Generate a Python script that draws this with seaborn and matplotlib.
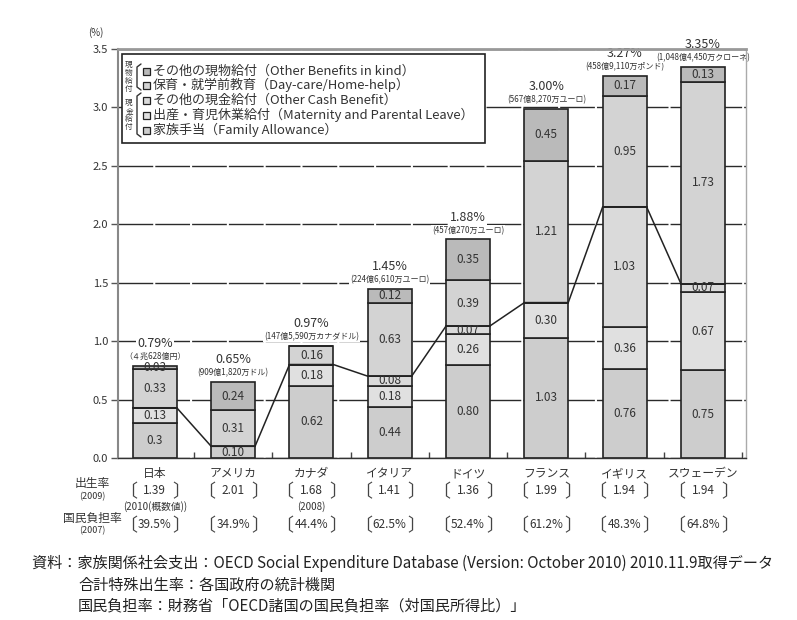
import matplotlib
matplotlib.use("Agg")
import matplotlib.pyplot as plt
import matplotlib.transforms as mtransforms
from matplotlib.patches import Rectangle
from matplotlib.lines import Line2D
import numpy as np
import pandas as pd
import seaborn as sns

sns.set_theme(style="white")
plt.rcParams['font.family'] = ['Noto Sans CJK JP', 'DejaVu Sans']

# ---- data (% of GDP) ----
countries = ["日本", "アメリカ", "カナダ", "イタリア", "ドイツ", "フランス", "イギリス", "スウェーデン"]
family_allowance = ["0.3", "0.10", "0.62", "0.44", "0.80", "1.03", "0.76", "0.75"]
maternity_leave = ["0.13", "0", "0.18", "0.18", "0.26", "0.30", "0.36", "0.67"]
other_cash = ["0", "0", "0", "0.08", "0.07", "0", "1.03", "0.07"]
day_care = ["0.33", "0.31", "0.16", "0.63", "0.39", "1.21", "0.95", "1.73"]
other_in_kind = ["0.03", "0.24", "0", "0.12", "0.35", "0.45", "0.17", "0.13"]
total_pct = ["0.79", "0.65", "0.97", "1.45", "1.88", "3.00", "3.27", "3.35"]
amounts = ["（４兆628億円）", "(909億1,820万ドル)", "(147億5,590万カナダドル)",
           "(224億6,610万ユーロ)", "(457億270万ユーロ)", "(567億8,270万ユーロ)",
           "(458億9,110万ポンド)", "(1,048億4,450万クローネ)"]
birth_rate = ["1.39", "2.01", "1.68", "1.41", "1.36", "1.99", "1.94", "1.94"]
birth_year_note = ["(2010(概数値))", "", "(2008)", "", "", "", "", ""]
tax_burden = ["39.5%", "34.9%", "44.4%", "62.5%", "52.4%", "61.2%", "48.3%", "64.8%"]

layers = [
    ("家族手当（Family Allowance）", family_allowance, "#cdcdcd"),
    ("出産・育児休業給付（Maternity and Parental Leave）", maternity_leave, "#e0e0e0"),
    ("その他の現金給付（Other Cash Benefit）", other_cash, "#dadada"),
    ("保育・就学前教育（Day-care/Home-help）", day_care, "#d3d3d3"),
    ("その他の現物給付（Other Benefits in kind）", other_in_kind, "#bababa"),
]

W, H = 797, 620
fig = plt.figure(figsize=(W / 100, H / 100), dpi=100)
fig.patch.set_facecolor("white")

def fx(px):
    return px / W

def fy(py):
    return 1 - py / H

ax = fig.add_axes([fx(118), fy(458), fx(746) - fx(118), fy(49) - fy(458)])

bar_w = 0.56
edge = "#222222"
bottom = np.zeros(len(countries))
for name, vals, col in layers:
    v = np.array([float(s) for s in vals])
    sns.barplot(x=countries, y=v, bottom=bottom, color=col, width=bar_w,
                edgecolor=edge, linewidth=1.2, ax=ax, zorder=2)
    for i, (s, h) in enumerate(zip(vals, v)):
        if h > 0:
            ax.text(i, bottom[i] + h / 2, s, ha="center", va="center",
                    fontsize=8.5, color="#333333", zorder=4)
    bottom = bottom + v

stack_top = bottom

# line joining the cash-benefit totals
cash = np.array([float(a) + float(b) + float(c)
                 for a, b, c in zip(family_allowance, maternity_leave, other_cash)])
lx, ly = [], []
for i, c in enumerate(cash):
    lx += [i - bar_w / 2, i + bar_w / 2]
    ly += [c, c]
ax.plot(lx, ly, color="#222222", lw=1.1, zorder=3)

# totals above bars
for i, (p, a) in enumerate(zip(total_pct, amounts)):
    ax.annotate(a, (i, stack_top[i]), xytext=(0, 6.5), textcoords="offset points",
                ha="center", va="center", fontsize=5.8, color="#333333",
                bbox=dict(boxstyle="square,pad=0.1", fc="white", ec="none"), zorder=5)
    ax.annotate(p + "%", (i, stack_top[i]), xytext=(0, 16), textcoords="offset points",
                ha="center", va="center", fontsize=9, color="#333333",
                bbox=dict(boxstyle="square,pad=0.1", fc="white", ec="none"), zorder=5)

# axes styling
ax.set_ylim(0, 3.5)
ax.set_xlim(-0.47, 7.55)
ax.set_yticks(np.arange(0, 3.51, 0.5))
ax.set_yticklabels([f"{t:.1f}" for t in np.arange(0, 3.51, 0.5)])
ax.set_axisbelow(True)
ax.yaxis.grid(True, color="#2a2a2a", lw=1.0, linestyle=(0, (25, 1.5)))
ax.xaxis.grid(False)
ax.set_facecolor("white")
ax.set_xlabel("")
ax.set_ylabel("")
ax.tick_params(axis="y", which="major", left=True, length=5, width=1, color="#555555",
               labelsize=8, labelcolor="#333333", pad=2)
ax.tick_params(axis="x", which="major", bottom=False, labelsize=8.5,
               labelcolor="#333333", pad=0.5)
ax.set_xticks(np.arange(len(countries)) + 0.5, minor=True)
ax.tick_params(axis="x", which="minor", bottom=True, direction="in", length=4,
               width=1, color="#444444")
ax.spines["left"].set_color("#888888")
ax.spines["left"].set_linewidth(1.5)
ax.spines["top"].set_color("#999999")
ax.spines["top"].set_linewidth(2)
ax.spines["right"].set_color("#aaaaaa")
ax.spines["right"].set_linewidth(1)
ax.spines["bottom"].set_color("#333333")
ax.spines["bottom"].set_linewidth(1)
for sp in ax.spines.values():
    sp.set_zorder(6)
    sp.set_visible(True)

fig.text(fx(96), fy(33), "(%)", ha="center", va="center", fontsize=7, color="#333333")

# legend box
fig.add_artist(Rectangle((fx(122), fy(143)), fx(485) - fx(122), fy(54) - fy(143),
                         transform=fig.transFigure, facecolor="white", edgecolor="#222222",
                         lw=1.2, zorder=10))
legend_rows = [layers[4], layers[3], layers[2], layers[1], layers[0]]
row_y = [71, 85, 100, 115, 130]
for (name, _, col), yy in zip(legend_rows, row_y):
    fig.add_artist(Rectangle((fx(143), fy(yy + 3.5)), fx(7), 7 / H,
                             transform=fig.transFigure, facecolor=col,
                             edgecolor="#222222", lw=0.9, zorder=11))
    fig.text(fx(153), fy(yy), name, ha="left", va="center", fontsize=9.4,
             color="#333333", zorder=11)

fig.text(fx(129), fy(77), "現\n物\n給\n付", ha="center", va="center", fontsize=5.5,
         linespacing=1.0, color="#333333", zorder=11)
fig.text(fx(129), fy(115), "現\n金\n給\n付", ha="center", va="center", fontsize=5.5,
         linespacing=1.0, color="#333333", zorder=11)
for y0, y1 in [(64, 90), (93, 137)]:
    fig.add_artist(Line2D([fx(141), fx(137), fx(137), fx(141)],
                          [fy(y0), fy(y0 + 3), fy(y1 - 3), fy(y1)],
                          transform=fig.transFigure, color="#333333", lw=1.0, zorder=11))

# table rows under the chart
bt = mtransforms.blended_transform_factory(ax.transData, fig.transFigure)
fig.text(fx(92), fy(483), "出生率", ha="center", va="center", fontsize=8.5, color="#333333")
fig.text(fx(92), fy(497), "(2009)", ha="center", va="center", fontsize=6.5, color="#333333")
fig.text(fx(92), fy(518), "国民負担率", ha="center", va="center", fontsize=8.5, color="#333333")
fig.text(fx(92), fy(531), "(2007)", ha="center", va="center", fontsize=6.5, color="#333333")

half = 27 / (fx(746) - fx(118)) / W * (7.55 + 0.47)
for i in range(len(countries)):
    ax.text(i, fy(491), birth_rate[i], transform=bt, ha="center", va="center",
            fontsize=8.5, color="#333333")
    ax.text(i, fy(525), tax_burden[i], transform=bt, ha="center", va="center",
            fontsize=8.5, color="#333333")
    for yc in (492, 526):
        ax.text(i - half, fy(yc), "〔", transform=bt, ha="center", va="center",
                fontsize=13, color="#444444")
        ax.text(i + half, fy(yc), "〕", transform=bt, ha="center", va="center",
                fontsize=13, color="#444444")
    if birth_year_note[i]:
        ax.text(i, fy(507), birth_year_note[i], transform=bt, ha="center", va="center",
                fontsize=7, color="#333333")

# source notes
fig.text(fx(32), fy(563),
         "資料：家族関係社会支出：OECD Social Expenditure Database (Version: October 2010) 2010.11.9取得データ",
         ha="left", va="center", fontsize=10.9, color="#222222")
fig.text(fx(78), fy(585), "合計特殊出生率：各国政府の統計機関",
         ha="left", va="center", fontsize=10.9, color="#222222")
fig.text(fx(78), fy(606), "国民負担率：財務省「OECD諸国の国民負担率（対国民所得比）」",
         ha="left", va="center", fontsize=10.9, color="#222222")

fig.savefig("out.png", dpi=100, facecolor="white")
